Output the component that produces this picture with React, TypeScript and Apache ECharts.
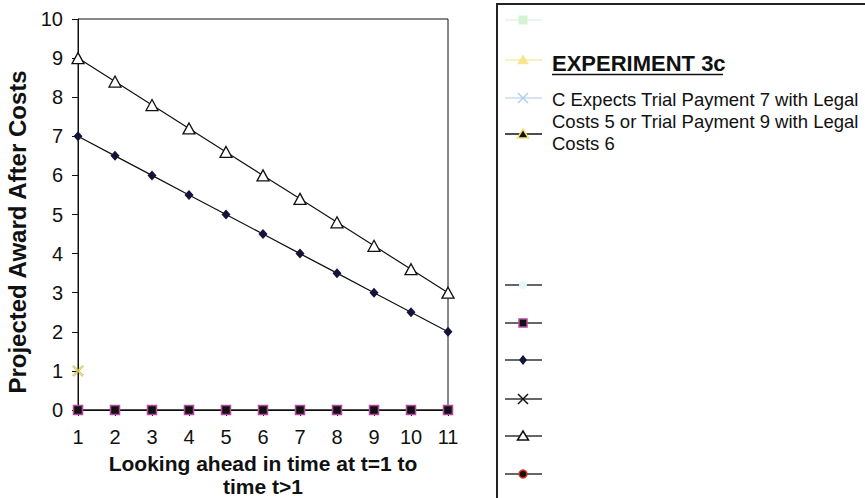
import React, { useEffect, useRef } from "react";
import * as echarts from "echarts";

// Time steps on the horizontal axis
const timeSteps = [1, 2, 3, 4, 5, 6, 7, 8, 9, 10, 11];
// Projected award after costs, trial payment 7 with legal costs 5
const awardPay7Cost5 = [7, 6.5, 6, 5.5, 5, 4.5, 4, 3.5, 3, 2.5, 2];
// Projected award after costs, trial payment 9 with legal costs 6
const awardPay9Cost6 = [9, 8.4, 7.8, 7.2, 6.6, 6, 5.4, 4.8, 4.2, 3.6, 3];
// Baseline series at zero
const awardZero = [0, 0, 0, 0, 0, 0, 0, 0, 0, 0, 0];
// Single point at t=1
const singlePoint: [number, number][] = [[1, 1]];

const legendTitle = "EXPERIMENT 3c";
const legendDescription = [
  "C Expects Trial Payment 7 with Legal",
  "Costs 5 or Trial Payment 9 with Legal",
  "Costs 6",
];
const xAxisTitle = "Looking ahead in time at t=1 to\ntime t>1";
const yAxisTitle = "Projected Award After Costs";

const FONT = '"Liberation Sans", Arial, Helvetica, sans-serif';
const CROSS =
  "path://M0,1.2L1.2,0L5,3.8L8.8,0L10,1.2L6.2,5L10,8.8L8.8,10L5,6.2L1.2,10L0,8.8L3.8,5Z";

const zip = (vals: number[]) => timeSteps.map((t, i) => [t, vals[i]]);

function legendRow(y: number, lineColor: string, marker: any[]) {
  return [
    {
      type: "line",
      shape: { x1: 505, y1: y, x2: 542, y2: y },
      style: { stroke: lineColor, lineWidth: 1.5 },
    },
    ...marker,
  ];
}

function buildGraphic() {
  const mx = 523;
  const tri = (y: number, fill: string, stroke: string, lw = 1.2) => ({
    type: "polygon",
    shape: { points: [[mx, y - 5], [mx + 5.5, y + 4], [mx - 5.5, y + 4]] },
    style: { fill, stroke, lineWidth: lw },
  });
  const cross = (y: number, stroke: string, lw = 1.5) => [
    { type: "line", shape: { x1: mx - 5, y1: y - 5, x2: mx + 5, y2: y + 5 }, style: { stroke, lineWidth: lw } },
    { type: "line", shape: { x1: mx - 5, y1: y + 5, x2: mx + 5, y2: y - 5 }, style: { stroke, lineWidth: lw } },
  ];
  const elements: any[] = [
    {
      type: "rect",
      shape: { x: 497, y: 4, width: 420, height: 520 },
      style: { fill: "none", stroke: "#222", lineWidth: 2 },
    },
    ...legendRow(20, "#e3f6e3", [
      { type: "rect", shape: { x: mx - 4.5, y: 15.5, width: 9, height: 9 }, style: { fill: "#d3f3d3" } },
    ]),
    ...legendRow(60, "#f8eca8", [tri(60, "#f6e58c", "#f6e58c", 0.5)]),
    ...legendRow(98, "#c9dbf2", cross(98, "#b3cdee")),
    ...legendRow(134, "#111", [tri(134, "#111", "#f3e27a", 1.5)]),
    ...legendRow(285, "#333", [
      { type: "circle", shape: { cx: mx, cy: 285, r: 4 }, style: { fill: "#e4f8fa" } },
    ]),
    ...legendRow(323, "#333", [
      {
        type: "rect",
        shape: { x: mx - 4, y: 319, width: 8, height: 8 },
        style: { fill: "#111", stroke: "#b5489f", lineWidth: 1.5 },
      },
    ]),
    ...legendRow(360, "#333", [
      {
        type: "polygon",
        shape: { points: [[mx, 355], [mx + 4, 360], [mx, 365], [mx - 4, 360]] },
        style: { fill: "#14143a" },
      },
    ]),
    ...legendRow(399, "#333", cross(399, "#111")),
    ...legendRow(436, "#333", [tri(436, "#fff", "#111", 1.5)]),
    ...legendRow(474, "#333", [
      { type: "circle", shape: { cx: mx, cy: 474, r: 4 }, style: { fill: "#111", stroke: "#d8321e", lineWidth: 1.5 } },
    ]),
    {
      type: "text",
      style: {
        text: legendTitle,
        x: 552,
        y: 63,
        fontFamily: FONT,
        fontSize: 22,
        fontWeight: "bold",
        fill: "#111",
        verticalAlign: "middle",
        align: "left",
      },
    },
    {
      type: "line",
      shape: { x1: 552, y1: 74.5, x2: 723, y2: 74.5 },
      style: { stroke: "#111", lineWidth: 1.5 },
    },
    {
      type: "text",
      style: {
        text: legendDescription.join("\n"),
        x: 552,
        y: 88,
        fontFamily: FONT,
        fontSize: 18.5,
        lineHeight: 22,
        fill: "#111",
        verticalAlign: "top",
        align: "left",
      },
    },
    // Vertical axis title
    {
      type: "text",
      x: 17,
      y: 232,
      rotation: Math.PI / 2,
      style: {
        text: yAxisTitle,
        fontFamily: FONT,
        fontSize: 24,
        fontWeight: "bold",
        fill: "#111",
        align: "center",
        verticalAlign: "middle",
      },
    },
  ];
  return elements;
}

export default function App() {
  const ref = useRef<HTMLDivElement>(null);

  useEffect(() => {
    if (!ref.current) return;
    const chart = echarts.init(ref.current, undefined, { renderer: "svg" });
    const lineStyle = { color: "#111", width: 1.2 };
    chart.setOption({
      animation: false,
      backgroundColor: "#fff",
      textStyle: { fontFamily: FONT },
      grid: {
        left: 78,
        right: 417,
        top: 19,
        bottom: 88,
        show: true,
        borderColor: "#111",
        borderWidth: 1,
        containLabel: false,
        outerBoundsMode: "none",
      },
      xAxis: {
        type: "value",
        min: 1,
        max: 11,
        interval: 1,
        name: xAxisTitle,
        nameLocation: "middle",
        nameGap: 42,
        nameTextStyle: {
          fontFamily: FONT,
          fontSize: 21,
          fontWeight: "bold",
          color: "#111",
          lineHeight: 23,
        },
        axisLine: { lineStyle: { color: "#111", width: 1 } },
        axisTick: { show: true, length: 6, lineStyle: { color: "#111" } },
        axisLabel: { fontFamily: FONT, fontSize: 20, color: "#111", margin: 17 },
        splitLine: { show: false },
      },
      yAxis: {
        type: "value",
        min: 0,
        max: 10,
        interval: 1,
        axisLine: { show: true, lineStyle: { color: "#111", width: 1 } },
        axisTick: { show: true, length: 6, lineStyle: { color: "#111" } },
        axisLabel: { fontFamily: FONT, fontSize: 20, color: "#111", margin: 15 },
        splitLine: { show: false },
      },
      graphic: buildGraphic(),
      series: [
        {
          type: "line",
          data: zip(awardZero),
          symbol: "rect",
          symbolSize: 9,
          lineStyle,
          itemStyle: { color: "#111", borderColor: "#b5489f", borderWidth: 1.5 },
          z: 5,
        },
        {
          type: "line",
          data: zip(awardPay7Cost5),
          symbol: "diamond",
          symbolSize: [9, 10],
          lineStyle,
          itemStyle: { color: "#14143a" },
        },
        {
          type: "line",
          data: zip(awardPay9Cost6),
          symbol: "triangle",
          symbolSize: [12, 11],
          lineStyle,
          itemStyle: { color: "#fff", borderColor: "#111", borderWidth: 1.3 },
        },
        {
          type: "scatter",
          data: singlePoint,
          symbol: CROSS,
          symbolSize: 11,
          itemStyle: { color: "#ece15a", borderColor: "#6b6630", borderWidth: 0.4 },
        },
      ],
    });
    return () => chart.dispose();
  }, []);

  return (
    <div
      ref={ref}
      style={{ position: "absolute", left: 0, top: 0, width: 865, height: 498 }}
    />
  );
}
